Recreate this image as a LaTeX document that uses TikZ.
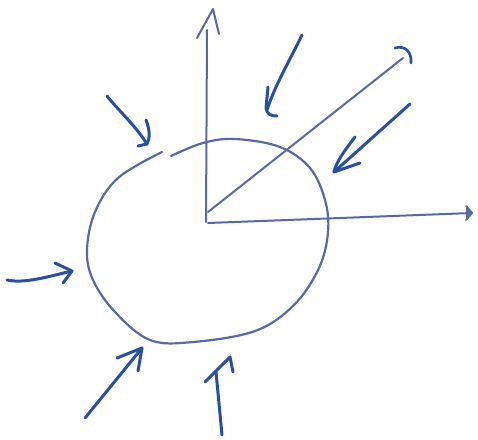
\documentclass[tikz,border=0pt]{standalone}
\usetikzlibrary{calc}
\definecolor{inkdark}{RGB}{42,78,160}
\definecolor{inklight}{RGB}{88,106,165}
\tikzset{
  inward/.style={draw=inkdark, line width=3pt, line cap=round, line join=round},
  axisline/.style={draw=inklight, line width=2pt, line cap=round, line join=round},
  blob/.style={draw=inklight, line width=2.2pt, line cap=round}
}
\begin{document}
\begin{tikzpicture}[x=1pt,y=-1pt]
\useasboundingbox (0,0) rectangle (478,439);
% origin and axes
\coordinate (O) at (206,222);
\coordinate (Vtop) at (207,30);
\coordinate (Vtip) at (213,9);
\coordinate (Htip) at (472,213);
\coordinate (Dtip) at (403,58);
\draw[axisline] (O) -- (Vtop);
\draw[axisline] (197,38) -- (Vtip) -- (219,34);
\draw[axisline] (208,223) -- (Htip);
\draw[axisline, fill=inklight] (466,206) -- (Htip) -- (466,220);
\draw[axisline] (208,212) -- (Dtip);
\draw[axisline, draw=inkdark, line width=2.6pt] (395,48) .. controls (405,45) and (412,52) .. (411,63);
% the closed blob
\draw[blob] plot[smooth, tension=0.6] coordinates {(171,156) (203,143) (235,139) (280,147) (310,168) (325,200) (328,232) (319,268) (294,305) (255,331) (193,342) (150,340) (115,312) (93,280) (87,250) (95,212) (118,178) (162,152)};
% inward arrows
\coordinate (A1t) at (302,35);  \coordinate (A1h) at (267,110);
\draw[inward] (A1t) .. controls (290,60) and (275,85) .. (A1h);
\draw[inward] (268,87) -- (266,108) .. controls (267,115) and (272,116) .. (277,116);
\coordinate (A2t) at (410,104); \coordinate (A2h) at (334,172);
\draw[inward] (A2t) -- (A2h);
\draw[inward] (355,137) .. controls (345,150) and (336,162) .. (A2h) -- (360,163);
\coordinate (A3t) at (107,96);  \coordinate (A3h) at (147,144);
\draw[inward] (A3t) .. controls (118,110) and (135,125) .. (A3h);
\draw[inward] (146,120) .. controls (150,130) and (150,138) .. (A3h) -- (138,146);
\coordinate (A4t) at (7,280);   \coordinate (A4h) at (72,271);
\draw[inward] (A4t) .. controls (25,284) and (50,276) .. (A4h);
\draw[inward] (55,263) -- (A4h) -- (63,283);
\coordinate (A5t) at (85,418);  \coordinate (A5h) at (142,348);
\draw[inward] (A5t) -- (A5h);
\draw[inward] (117,358) -- (A5h) -- (138,371);
\coordinate (A6t) at (222,435); \coordinate (A6h) at (230,357);
\draw[inward] (A6t) -- (216,372);
\draw[inward] (205,382) -- (A6h) -- (233,372);
\end{tikzpicture}
\end{document}
